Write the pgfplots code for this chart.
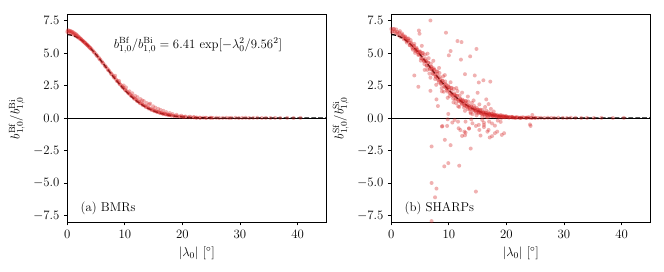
\RequirePackage{fix-cm}
\documentclass[border=0pt]{standalone}
\usepackage{pgfplots}
\pgfplotsset{compat=1.18}
\definecolor{ptred}{RGB}{214,39,40}
\pgfplotsset{
  pts/.style={only marks, mark=*, mark size=2pt, color=ptred,
    mark options={fill=ptred, fill opacity=0.36, draw opacity=0}},
  fitline/.style={black, line width=1.3pt, dash pattern=on 4.8pt off 2.1pt, no marks},
  zeroline/.style={black, line width=0.9pt, no marks},
  panel/.style={
    width=259pt, height=208pt, scale only axis,
    xmin=0, xmax=45, ymin=-8, ymax=8,
    xtick={0,10,20,30,40},
    ytick={-7.5,-5,-2.5,0,2.5,5,7.5},
    yticklabel style={/pgf/number format/.cd, fixed, fixed zerofill, precision=1},
    tick align=outside, xtick pos=bottom, ytick pos=left,
    major tick length=3.5pt,
    tick style={black, line width=0.8pt},
    axis line style={black, line width=0.8pt},
    xlabel={$|\lambda_0|$ [$^\circ$]},
    clip=true,
  },
}
\begin{document}
\fontsize{12.8}{15.4}\selectfont
\begin{tikzpicture}
\begin{axis}[panel, at={(0pt,0pt)}, anchor=south west,
  ylabel={$b^{\mathrm{Bf}}_{1,0}/b^{\mathrm{Bi}}_{1,0}$}]
\addplot[pts] coordinates {
(0.1,6.75) (0.3,6.72) (0.5,6.70) (0.7,6.66) (0.9,6.62) (1.1,6.57) (1.3,6.50) (1.5,6.45) (1.7,6.37) (1.9,6.28)
(2.1,6.20) (2.3,6.11) (2.5,6.02) (2.7,5.93) (2.9,5.84) (3.1,5.76) (3.3,5.66) (3.5,5.60) (3.7,5.50) (3.9,5.40)
(0.0,6.62) (0.2,6.55) (0.4,6.66) (0.6,6.50) (0.8,6.58) (1.0,6.42) (1.2,6.45) (1.4,6.32) (1.6,6.33) (1.8,6.20)
(2.0,6.18) (2.2,6.08) (2.4,6.06) (2.6,5.95) (2.8,5.90) (3.0,5.81) (3.2,5.74) (3.4,5.65) (3.6,5.56) (3.8,5.47)
(4.0,5.40) (4.25,5.28) (4.5,5.15) (4.75,5.02) (5.0,4.89) (5.25,4.76) (5.5,4.62) (5.75,4.48) (6.0,4.34) (6.25,4.20)
(6.5,4.06) (6.75,3.92) (7.0,3.78) (7.25,3.64) (7.5,3.50) (7.75,3.36) (8.0,3.22) (8.25,3.09) (8.5,2.95) (8.75,2.82)
(9.0,2.69) (9.25,2.57) (9.5,2.44) (9.75,2.32) (10,2.20) (10.25,2.09) (10.5,1.98) (10.75,1.87) (11,1.77) (11.25,1.67)
(11.5,1.57) (11.75,1.48) (12,1.39) (12.25,1.30) (12.5,1.22) (12.75,1.14) (13,1.07) (13.25,1.00) (13.5,0.93) (13.75,0.87)
(14,0.81) (14.25,0.75) (14.5,0.70) (14.75,0.65) (15,0.60) (15.25,0.55) (15.5,0.51) (15.75,0.47) (16,0.43) (16.25,0.40)
(16.5,0.36) (16.75,0.33) (17,0.30) (17.25,0.28) (17.5,0.25) (17.75,0.23) (18,0.21) (18.5,0.17) (19,0.14) (19.5,0.11)
(20,0.09) (20.5,0.07) (21,0.06) (21.5,0.05) (22,0.04) (22.5,0.03) (23,0.03) (24,0.02) (25,0.02)
(4.1,5.32) (4.6,5.07) (5.1,4.80) (5.6,4.53) (6.1,4.25) (6.6,3.96) (7.1,3.68) (7.6,3.40) (8.1,3.12) (8.6,2.85)
(9.1,2.60) (9.6,2.35) (10.1,2.12) (10.6,1.90) (11.1,1.69) (11.6,1.49) (12.1,1.31) (12.6,1.14) (13.1,0.99) (13.6,0.85)
(14.1,0.73) (14.6,0.62) (15.1,0.53) (15.6,0.45) (16.1,0.38) (16.6,0.32) (17.1,0.27) (17.6,0.22) (18.1,0.18) (18.6,0.15)
(19.1,0.12) (19.6,0.10) (20.2,0.08)
(8.3,3.25) (9.0,2.85) (9.8,2.50) (10.2,2.35) (10.8,2.05) (11.3,1.90) (11.8,1.70) (12.2,1.60) (12.7,1.45) (13.0,1.35)
(13.3,1.30) (13.8,1.15) (14.2,1.05) (14.4,1.10) (14.9,0.90) (15.3,0.80) (15.8,0.70) (16.2,0.62) (16.7,0.55) (17.2,0.45)
(17.8,0.38) (18.3,0.30) (19.0,0.25) (19.8,0.18) (20.5,0.12) (21.3,0.10) (22.0,0.08)
(22.4,0.02) (23.1,0.01) (23.6,0.03) (24.2,0.01) (24.8,0.02) (25.3,0.01) (25.9,0.02) (26.4,0.00) (27.0,0.01) (27.6,0.02)
(28.1,0.00) (28.5,0.01) (29.2,0.02) (29.8,0.00) (30.4,0.01) (31.0,0.02) (31.6,0.00) (32.3,0.01) (33.0,0.02) (33.8,0.00)
(34.5,0.01) (35.3,0.00) (36.1,0.01) (37.0,0.00) (38.2,0.01) (39.3,0.00) (40.5,0.01)
};
\addplot[zeroline] coordinates {(0,0) (45,0)};
\addplot[fitline] coordinates {
(0,6.41) (0.5,6.392) (1,6.34) (1.5,6.254) (2,6.136) (2.5,5.986) (3,5.809) (3.5,5.606) (4,5.381) (4.5,5.136)
(5,4.876) (5.5,4.604) (6,4.323) (6.5,4.037) (7,3.750) (7.5,3.464) (8,3.182) (8.5,2.908) (9,2.642) (9.5,2.388)
(10,2.146) (10.5,1.919) (11,1.706) (11.5,1.508) (12,1.326) (12.5,1.160) (13,1.009) (13.5,0.8725) (14,0.7507) (14.5,0.6425)
(15,0.5468) (15.5,0.4626) (16,0.3894) (16.5,0.3258) (17,0.2712) (17.5,0.2247) (18,0.1849) (18.5,0.1515) (19,0.1234) (19.5,0.1000)
(20,0.0805) (21,0.0514) (22,0.0321) (23,0.0196) (24,0.0117) (25,0.0069) (27,0.002) (30,0.0003) (35,0) (40,0) (45,0)
};
\node at (axis cs:22.7,5.6) {$b^{\mathrm{Bf}}_{1,0}/b^{\mathrm{Bi}}_{1,0}=6.41\,\exp[-\lambda_0^2/9.56^2]$};
\node[anchor=west, inner sep=0pt] at (axis cs:2.3,-6.92) {(a) BMRs};
\end{axis}
\begin{axis}[panel, at={(324pt,0pt)}, anchor=south west,
  ylabel={$b^{\mathrm{Sf}}_{1,0}/b^{\mathrm{Si}}_{1,0}$}]
\addplot[pts] coordinates {
(0,6.85) (0.25,6.68) (0.5,6.85) (0.75,6.53) (1.0,6.63) (1.25,6.36) (1.5,6.68) (1.75,6.37) (2.0,6.37) (2.25,6.13)
(2.5,6.21) (2.75,5.95) (3.0,6.12) (3.25,5.60) (3.5,5.69) (3.75,5.25) (4.0,5.70) (4.25,5.22) (4.5,5.23) (4.75,4.88)
(5.0,5.12) (5.25,4.58) (5.5,5.00) (5.75,4.15) (6.0,4.40) (6.25,3.70) (6.5,4.60) (6.75,3.81) (7.0,3.91) (7.25,3.37)
(7.5,3.70) (7.75,3.16) (8.0,3.58) (8.25,2.73) (8.5,2.99) (8.75,2.30) (9.0,3.20) (9.25,2.44) (9.5,2.55) (9.75,2.03)
(10.0,2.39) (10.25,1.87) (10.5,2.32) (10.75,1.49) (11.0,1.79) (11.25,1.13) (11.5,2.07) (11.75,1.34) (12.0,1.45) (12.25,1.06)
(12.5,1.34) (12.75,0.96) (13.0,1.31) (13.25,0.70) (13.5,0.93) (13.75,0.45) (14.0,1.17) (14.25,0.64) (14.5,0.76) (14.75,0.41)
(15.0,0.65) (15.25,0.43) (15.5,0.64) (15.75,0.29) (16.0,0.42) (16.25,0.15) (16.5,0.57) (16.75,0.26) (17.0,0.34) (17.25,0.14)
(17.5,0.33) (17.75,0.13) (18.0,0.26) (18.25,0.11) (18.5,0.17) (18.75,0.05) (19.0,0.23) (19.25,0.10) (19.5,0.13) (19.75,0.05)
(20.0,0.13) (20.5,0.04) (21,0.08) (21.5,0.02) (22,0.04) (22.5,0.00) (23,0.04) (23.5,0.01) (24,0.03) (24.5,0.00)
(25,0.02) (25.5,0.01) (26,0.02) (26.6,0.00) (27.2,0.02) (27.8,0.01) (28.3,0.00) (29,0.02) (29.8,0.01) (30.5,0.00)
(31.2,0.02) (32.0,0.01) (33.0,0.00) (34.0,0.01) (35.2,0.00) (36.5,0.01) (38.5,0.00) (40.4,0.01)
(0.12,6.60) (0.37,6.84) (0.62,6.64) (0.87,6.81) (1.12,6.48) (1.37,6.57) (1.62,6.23) (1.87,6.50) (2.12,6.25) (2.37,6.28)
(2.62,5.92) (2.87,6.08) (3.12,5.77) (3.37,5.99) (3.62,5.46) (3.87,5.54) (4.12,5.01) (4.37,5.40) (4.62,5.05) (4.87,5.10)
(5.12,4.41) (5.37,4.99) (5.62,4.42) (5.87,4.87) (6.12,4.01) (6.37,4.27) (6.62,3.41) (6.87,4.18) (7.12,3.64) (7.37,3.82)
(7.62,2.99) (7.87,3.57) (8.12,3.00) (8.37,3.46) (8.62,2.61) (8.87,2.87) (9.12,2.02) (9.37,2.81) (9.62,2.29) (9.87,2.49)
(10.12,1.69) (10.37,2.30) (10.62,1.75) (10.87,2.24) (11.12,1.42) (11.37,1.72) (11.62,0.90) (11.87,1.73) (12.12,1.25) (12.37,1.41)
(12.62,0.82) (12.87,1.29) (13.12,0.89) (13.37,1.27) (13.62,0.66) (13.87,0.90) (14.12,0.30) (14.37,0.94) (14.62,0.59) (14.87,0.78)
(15.12,0.35) (15.37,0.62) (15.62,0.39) (15.87,0.62) (16.12,0.27) (16.37,0.41) (16.62,0.07) (16.87,0.44) (17.12,0.24) (17.37,0.36)
(17.62,0.14) (17.87,0.25) (18.12,0.16) (18.37,0.25) (18.62,0.10) (18.87,0.16) (19.12,0.01) (19.37,0.18) (19.62,0.09) (19.87,0.14)
(20.3,0.05) (20.8,0.09) (21.3,0.03) (21.8,0.06) (22.3,0.01) (22.8,0.05) (23.3,0.02) (23.8,0.06) (24.3,0.01)
(4.06,5.35) (4.56,5.08) (5.06,4.86) (5.56,4.52) (6.06,4.35) (6.56,3.95) (7.06,3.78) (7.56,3.38) (8.06,3.20) (8.56,2.82)
(9.06,2.66) (9.56,2.30) (10.06,2.17) (10.56,1.85) (11.06,1.73) (11.56,1.42) (12.06,1.35) (12.56,1.10) (13.06,1.03) (13.56,0.80)
(14.06,0.77) (14.56,0.58) (15.06,0.56) (15.56,0.41) (16.06,0.40) (16.56,0.28) (17.06,0.28) (17.56,0.19) (18.06,0.19) (18.56,0.13)
(19.06,0.13) (19.56,0.08) (20.06,0.09) (20.56,0.05) (21.06,0.06) (21.56,0.03)
(2.18,6.05) (2.43,6.10) (2.68,5.80) (2.93,5.95) (3.18,5.60) (3.43,5.80) (3.68,5.35) (3.93,5.55) (4.18,5.15) (4.43,5.30)
(4.68,4.85) (4.93,5.05) (5.18,4.60) (5.43,4.80) (5.68,4.35) (5.93,4.55) (6.18,4.05) (6.43,4.25) (6.68,3.75) (6.93,3.95)
(7.18,3.45) (7.43,3.70) (7.68,3.20) (7.93,3.40) (8.18,2.90) (8.43,3.15) (8.68,2.65) (8.93,2.85) (9.18,2.40) (9.43,2.60)
(9.68,2.15) (9.93,2.35) (10.18,1.95) (10.43,2.10) (10.68,1.70) (10.93,1.90) (11.18,1.50) (11.43,1.70) (11.68,1.30) (11.93,1.50)
(12.18,1.15) (12.43,1.30) (12.68,1.00) (12.93,1.15) (13.18,0.85) (13.43,1.00) (13.68,0.72) (13.93,0.85) (14.18,0.60) (14.43,0.72)
(14.68,0.50) (14.93,0.62) (15.18,0.42) (15.43,0.52) (15.68,0.35) (15.93,0.44) (16.18,0.30) (16.43,0.37) (16.68,0.25) (16.93,0.31)
(17.18,0.21) (17.43,0.27) (17.68,0.18) (17.93,0.22) (18.3,0.14) (18.8,0.12) (19.3,0.09) (19.8,0.08) (20.4,0.06) (21.0,0.04)
(21.7,0.03) (22.5,0.03) (23.5,0.02) (25.0,0.01)
(5.3,5.55) (5.8,3.70) (6.3,4.95) (6.8,3.10) (7.3,4.40) (7.8,2.55) (8.3,3.85) (8.8,2.05) (9.3,3.30) (9.8,1.55)
(10.3,2.75) (10.8,1.20) (11.3,2.30) (11.8,0.85) (12.3,1.95) (12.8,0.55) (13.3,1.65) (13.8,0.35) (14.3,1.35) (14.8,0.20)
(15.3,1.05) (15.8,0.10) (16.3,0.85) (16.8,0.05) (17.3,0.70) (17.8,0.50)
(6.8,7.50) (4.8,6.73) (4.9,6.48) (9.5,6.56) (11.5,5.92) (12.2,5.84) (14.8,5.31) (10.3,5.15) (10.0,4.82) (13.7,4.74)
(12.1,4.49) (4.0,3.27) (4.7,2.40) (12.8,3.37) (14.5,3.27) (16.0,2.90) (17.2,2.80) (15.2,2.73) (15.0,1.94) (16.5,1.43)
(16.9,1.07) (6.8,2.09) (7.85,1.43) (8.1,0.92) (9.9,0.31) (9.8,-0.10) (8.8,-0.66) (9.7,-0.61) (11.6,-0.28) (11.7,-0.79)
(12.3,-1.38) (12.7,-1.05) (12.9,-0.28) (13.5,-0.79) (14.1,-0.41) (14.7,-0.61) (15.3,-0.92) (15.5,-1.35) (16.1,-0.54) (16.9,-0.92)
(17.1,-1.50) (18.0,-1.17) (19.2,-1.30) (18.0,-0.59) (17.0,-0.28) (9.3,-1.68) (10.3,-2.09) (13.8,-2.35) (7.0,-2.19) (9.9,-3.47)
(9.2,-3.72) (11.8,-3.67) (7.0,-5.00) (7.85,-5.43) (7.6,-6.10) (14.7,-5.66) (7.0,-7.93) (24.2,-0.61) (24.5,0.23)
(8.87,-0.62) (12.0,-0.93) (12.9,-1.13) (12.8,-1.33) (13.5,-0.82) (15.2,-0.53) (16.1,-0.70) (16.7,-1.05) (17.5,-1.40) (18.4,-1.05)
(19.6,-1.17) (17.5,-0.42) (16.1,-0.36) (18.5,-0.20) (24.1,-0.50) (10.6,-0.35) (11.0,-0.15) (13.9,-0.10) (15.8,-0.15) (19.0,-0.30)
};
\addplot[zeroline] coordinates {(0,0) (45,0)};
\addplot[fitline] coordinates {
(0,6.41) (0.5,6.392) (1,6.34) (1.5,6.254) (2,6.136) (2.5,5.986) (3,5.809) (3.5,5.606) (4,5.381) (4.5,5.136)
(5,4.876) (5.5,4.604) (6,4.323) (6.5,4.037) (7,3.750) (7.5,3.464) (8,3.182) (8.5,2.908) (9,2.642) (9.5,2.388)
(10,2.146) (10.5,1.919) (11,1.706) (11.5,1.508) (12,1.326) (12.5,1.160) (13,1.009) (13.5,0.8725) (14,0.7507) (14.5,0.6425)
(15,0.5468) (15.5,0.4626) (16,0.3894) (16.5,0.3258) (17,0.2712) (17.5,0.2247) (18,0.1849) (18.5,0.1515) (19,0.1234) (19.5,0.1000)
(20,0.0805) (21,0.0514) (22,0.0321) (23,0.0196) (24,0.0117) (25,0.0069) (27,0.002) (30,0.0003) (35,0) (40,0) (45,0)
};
\node[anchor=west, inner sep=0pt] at (axis cs:2.3,-6.92) {(b) SHARPs};
\end{axis}
\pgfresetboundingbox
\path[use as bounding box] (-67.3pt,-50pt) rectangle (596.7pt,222pt);
\end{tikzpicture}
\end{document}
